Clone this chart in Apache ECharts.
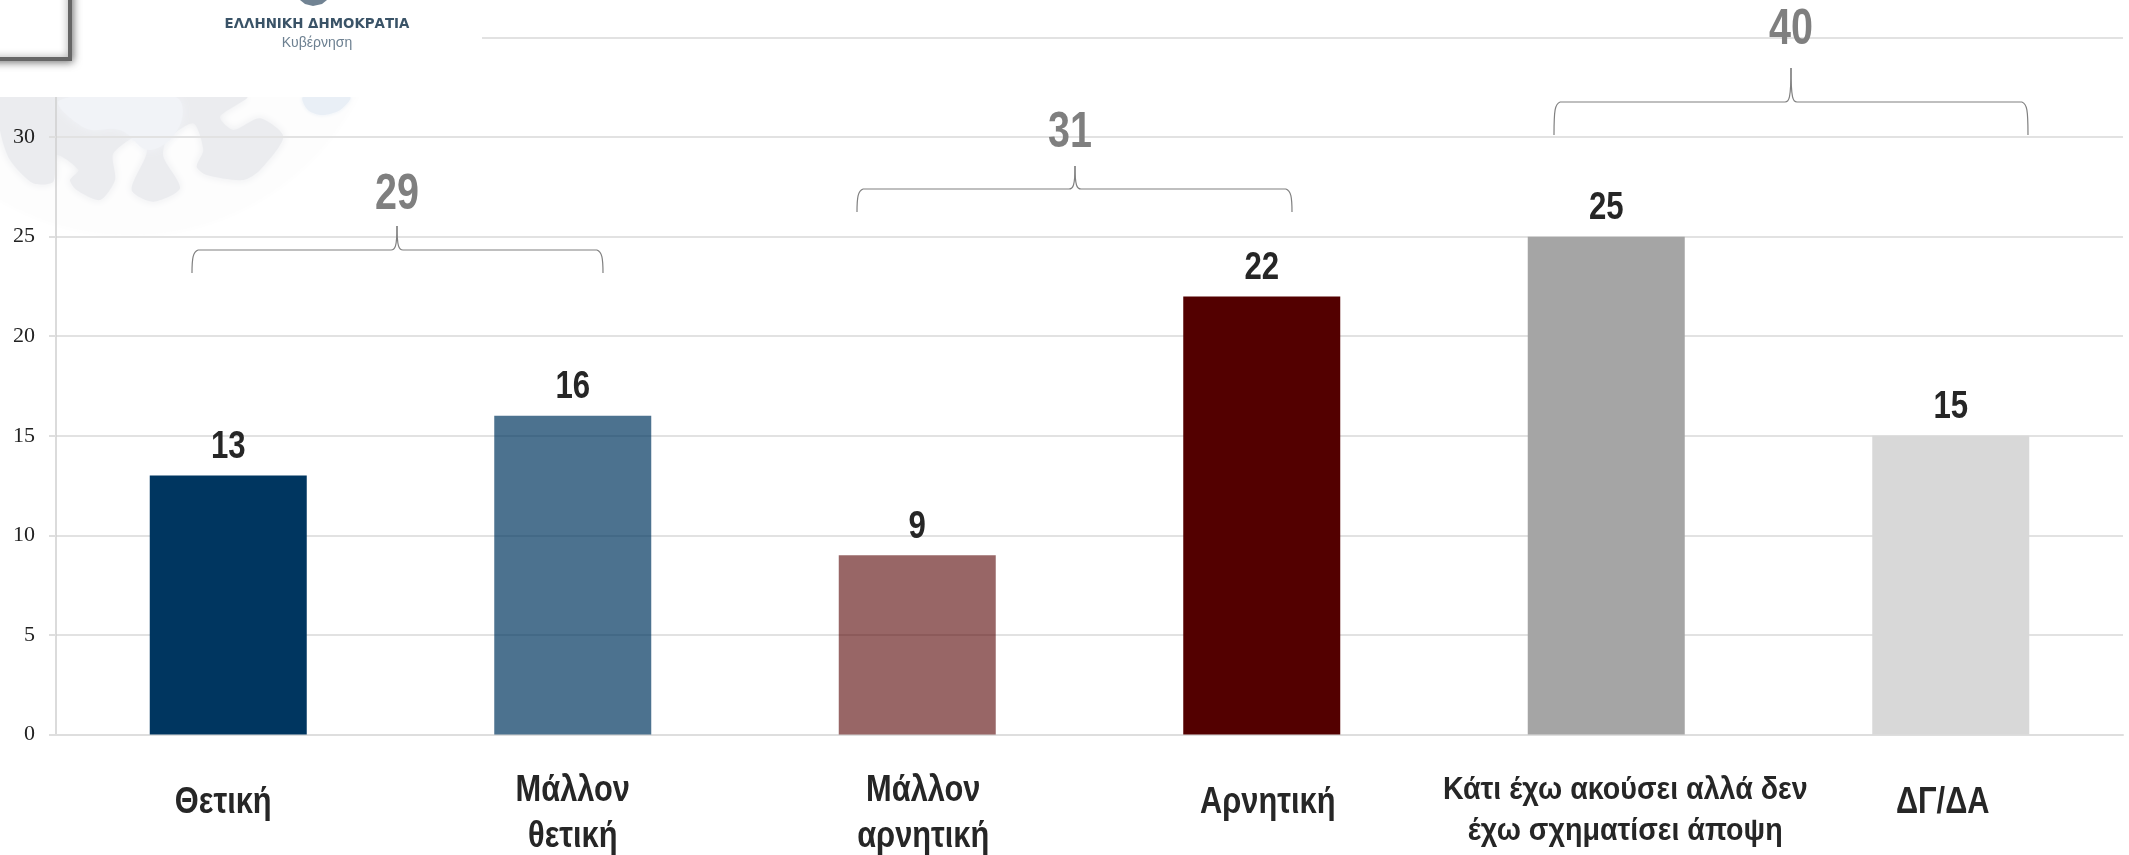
<!DOCTYPE html>
<html><head><meta charset="utf-8">
<style>html,body{margin:0;padding:0;background:#fff}#c{width:2129px;height:855px}</style>
<script src="https://cdn.jsdelivr.net/npm/echarts@6/dist/echarts.min.js"></script>
</head><body><div id="c"></div>
<script>
const categories = ['Θετική','Μάλλον\nθετική','Μάλλον\nαρνητική','Αρνητική','Κάτι έχω ακούσει αλλά δεν\nέχω σχηματίσει άποψη','ΔΓ/ΔΑ'];
const values = [13,16,9,22,25,15];
const barColors = ['#003660','rgba(0,54,96,0.7)','rgba(83,0,0,0.6)','#530000','#a5a5a5','#d8d8d8'];
const groupTotals = ['29','31','40'];

const FONT = '"Liberation Sans",Arial,sans-serif';
const labelShift = [-5,0,6,6,19,-8];
const chart = echarts.init(document.getElementById('c'),null,{renderer:'canvas'});

function brace(x0,x1,xm,yBottom,yMid,yTip){
  const r=6, style={fill:null,stroke:'#808080',lineWidth:1.2};
  const bez=(x1_,y1_,a,b,c,d,x2_,y2_)=>({type:'bezierCurve',z:5,silent:true,shape:{x1:x1_,y1:y1_,cpx1:a,cpy1:b,cpx2:c,cpy2:d,x2:x2_,y2:y2_},style});
  const line=(a,b,c,d)=>({type:'line',z:5,silent:true,shape:{x1:a,y1:b,x2:c,y2:d},style});
  return [
    bez(x0,yBottom,x0,yMid+8,x0+1,yMid+2,x0+r,yMid),
    line(x0+r,yMid,xm-r,yMid),
    bez(xm-r,yMid,xm-2,yMid,xm,yMid-3,xm,yTip),
    bez(xm,yTip,xm,yMid-3,xm+2,yMid,xm+r,yMid),
    line(xm+r,yMid,x1-r,yMid),
    bez(x1-r,yMid,x1-1,yMid+2,x1,yMid+8,x1,yBottom)
  ];
}
function total(text,x,y){
  return {type:'text',z:6,x,y,scaleX:0.79,style:{text,font:`bold 50px ${FONT}`,fill:'#7f7f7f',textAlign:'center',textVerticalAlign:'middle'}};
}
const blobOutline = [[0,20],[740,20],[660,80],[700,120],[780,85],[850,140],[780,240],[730,270],[620,255],[590,230],[610,180],[580,100],[500,150],[490,200],[540,295],[460,335],[395,300],[440,190],[430,130],[340,190],[345,270],[300,330],[230,300],[210,270],[235,240],[170,195],[160,275],[100,280],[30,210],[0,120]].map(p=>[p[0]/3,p[1]/3+90]);
const watermark = [
  {type:'circle',z:-3,silent:true,shape:{cx:130,cy:-20,r:255},style:{fill:'#fdfdfd',shadowBlur:14,shadowColor:'#fdfdfd'}},
  {type:'polygon',z:-2,silent:true,shape:{points:blobOutline,smooth:0.25},style:{fill:'#ebecef',shadowBlur:8,shadowColor:'#ebecef'}},
  {type:'polygon',z:-1,silent:true,shape:{points:[[60,100],[175,97],[180,125],[150,150],[120,130],[85,128]],smooth:0.4},style:{fill:'#f1f3f7',shadowBlur:10,shadowColor:'#f1f3f7'}},
  {type:'polygon',z:-2,silent:true,shape:{points:[[303,97],[350,97],[340,110],[322,115],[308,110]],smooth:0.3},style:{fill:'#e9eff6',shadowBlur:4,shadowColor:'#e9eff6'}}
];

const lineOffsets = {1:[69],2:[57,103]};
chart.setOption({
  animation:false,
  backgroundColor:'#fff',
  grid:{left:56,right:6,top:37.5,bottom:120.5,outerBoundsMode:'none'},
  xAxis:{type:'category',data:categories,
    axisTick:{show:false},
    axisLine:{lineStyle:{color:'#dedede',width:2}},
    axisLabel:{show:false}},
  yAxis:{type:'value',min:0,max:35,interval:5,
    axisLine:{show:true,lineStyle:{color:'#cfcfcf',width:1.5}},
    axisTick:{show:true,length:7,lineStyle:{color:'#dedede',width:2}},
    splitLine:{lineStyle:{color:'#e2e2e2',width:2}},
    axisLabel:{margin:21,fontFamily:'"Liberation Serif",serif',fontSize:22,color:'#222'}},
  series:[
    {type:'bar',barWidth:157,z:3,
      data:values.map((v,i)=>({value:v,itemStyle:{color:barColors[i]}}))},
    {type:'custom',z:6,silent:true,clip:false,coordinateSystem:'cartesian2d',
      data:values.map((v,i)=>[i,v]),
      renderItem:(p,api)=>{
        const i=api.value(0), v=api.value(1);
        const top=api.coord([i,v]), base=api.coord([i,0]);
        const kids=[{type:'text',x:top[0],y:top[1]-28,scaleX:0.82,
          style:{text:String(v),font:`bold 38px ${FONT}`,fill:'#262626',textAlign:'center',textVerticalAlign:'middle'}}];
        const lines=categories[i].split('\n');
        const small=i===4;
        const offs=small?[56,97]:lineOffsets[lines.length];
        lines.forEach((l,k)=>kids.push({type:'text',x:base[0]+labelShift[i],y:base[1]+offs[k],scaleX:small?0.895:0.855,
          style:{text:l,font:`bold ${small?32:36}px ${FONT}`,fill:'#262626',textAlign:'center',textVerticalAlign:'middle'}}));
        return {type:'group',children:kids};
      }}
  ],
  graphic:[
    ...watermark,
    {type:'rect',z:4,silent:true,shape:{x:0,y:0,width:482,height:97},style:{fill:'#fff'}},
    {type:'rect',z:5,silent:true,shape:{x:-20,y:-20,width:90,height:79},style:{fill:'#fff',stroke:'#666',lineWidth:4,shadowBlur:8,shadowColor:'rgba(0,0,0,0.5)',shadowOffsetX:1,shadowOffsetY:1}},
    {type:'polygon',z:5,silent:true,shape:{points:[[300,0],[305,4],[313,6],[322,4],[327,0]]},style:{fill:'#4d6478',opacity:0.8}},
    {type:'text',z:5,x:317,y:25,style:{text:'ΕΛΛΗΝΙΚΗ ΔΗΜΟΚΡΑΤΙΑ',font:'bold 13.4px "DejaVu Sans",sans-serif',fill:'#3a5367',textAlign:'center',textVerticalAlign:'middle'}},
    {type:'text',z:5,x:317,y:43,style:{text:'Κυβέρνηση',font:'14px "Liberation Sans",sans-serif',fill:'#6d8091',textAlign:'center',textVerticalAlign:'middle'}},
    ...brace(192,603,397,273,250,226),
    ...brace(857,1292,1075,212,189,166),
    ...brace(1554,2028,1791,135,102,68),
    total(groupTotals[0],397,195),
    total(groupTotals[1],1070,133),
    total(groupTotals[2],1791,30)
  ]
});
</script></body></html>
